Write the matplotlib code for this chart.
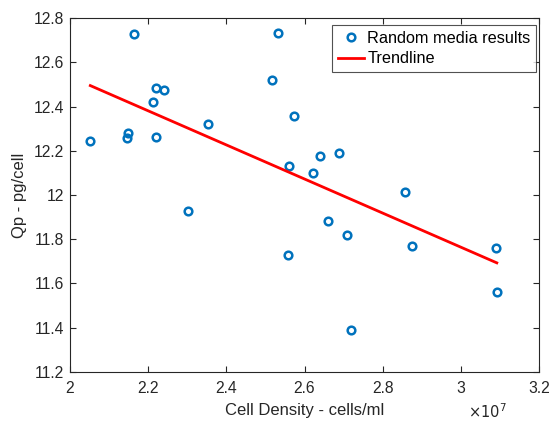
import numpy as np
import matplotlib
matplotlib.use('Agg')
import matplotlib.pyplot as plt
from matplotlib.ticker import FuncFormatter

# Valores
cell_density = [2.052e7, 2.165e7, 2.149e7, 2.145e7, 2.221e7, 2.241e7, 2.213e7, 2.220e7,
                2.353e7, 2.518e7, 2.531e7, 2.573e7, 2.561e7, 2.302e7, 2.639e7, 2.688e7,
                2.621e7, 2.857e7, 2.558e7, 2.660e7, 2.710e7, 2.876e7, 3.089e7, 3.092e7,
                2.720e7]
qp = [12.246, 12.730, 12.279, 12.259, 12.483, 12.477, 12.420, 12.262,
      12.323, 12.519, 12.734, 12.358, 12.133, 11.929, 12.177, 12.188,
      12.100, 12.015, 11.730, 11.882, 11.819, 11.771, 11.762, 11.561,
      11.390]

x_ticks = [2.0e7, 2.2e7, 2.4e7, 2.6e7, 2.8e7, 3.0e7, 3.2e7]
y_ticks = [11.2, 11.4, 11.6, 11.8, 12.0, 12.2, 12.4, 12.6, 12.8]

plt.rcParams['font.family'] = ['Liberation Sans', 'DejaVu Sans']
text_color = '#262626'

fig = plt.figure(figsize=(5.55, 4.24), dpi=100)
ax = fig.add_axes([0.1261, 0.1233, 0.8451, 0.8335])

ax.plot(cell_density, qp, 'o', mfc='none', mec='#0072BD', mew=1.8, ms=5.5,
        label='Random media results')

# Linha de tendência (mínimos quadrados)
x = np.array(cell_density)
coef = np.polyfit(x, qp, 1)
xs = np.array([x.min(), x.max()])
ax.plot(xs, np.polyval(coef, xs), '-', color='#FF0000', lw=2, label='Trendline')

ax.set_xlim(2.0e7, 3.2e7)
ax.set_ylim(11.2, 12.8)
ax.set_xticks(x_ticks)
ax.set_yticks(y_ticks)
ax.xaxis.set_major_formatter(FuncFormatter(lambda v, p: '%g' % round(v / 1e7, 4)))
ax.yaxis.set_major_formatter(FuncFormatter(lambda v, p: '%g' % round(v, 4)))

ax.tick_params(direction='in', top=True, right=True, length=4, width=0.8,
               colors=text_color, labelsize=11.3)
ax.tick_params(axis='x', pad=7)
ax.tick_params(axis='y', pad=4)
for s in ax.spines.values():
    s.set_color(text_color)
    s.set_linewidth(0.8)

ax.set_xlabel('Cell Density - cells/ml', fontsize=12, color=text_color, labelpad=5)
ax.set_ylabel('Qp - pg/cell', fontsize=12, color=text_color, labelpad=5)
ax.text(0.93, -0.112, r'$\times10^{7}$', transform=ax.transAxes, ha='right', va='center',
        fontsize=10.5, color=text_color)

leg = ax.legend(loc='upper right', bbox_to_anchor=(0.994, 0.981), fontsize=11.7,
                frameon=True, fancybox=False, edgecolor=text_color, handlelength=1.6,
                borderaxespad=0, borderpad=0.35, labelspacing=0.35, handletextpad=0.2)
leg.get_frame().set_linewidth(0.8)
for t in leg.get_texts():
    t.set_color('black')

fig.savefig('out.png', dpi=100)
